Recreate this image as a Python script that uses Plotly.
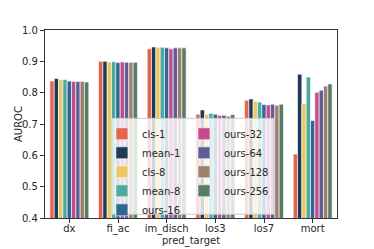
import plotly.graph_objects as go

categories = ["dx", "fi_ac", "im_disch", "los3", "los7", "mort"]
series_names = ["cls-1", "mean-1", "cls-8", "mean-8", "ours-16",
                "ours-32", "ours-64", "ours-128", "ours-256"]
colors = ["#e1654f", "#1f3a56", "#e8c966", "#4fa99c", "#2f6692",
          "#c44b8c", "#5d5f94", "#a07e6e", "#577c67"]

cls_1 = [0.837, 0.900, 0.940, 0.731, 0.776, 0.604]
mean_1 = [0.845, 0.900, 0.946, 0.745, 0.780, 0.859]
cls_8 = [0.841, 0.898, 0.945, 0.731, 0.773, 0.765]
mean_8 = [0.842, 0.899, 0.945, 0.734, 0.770, 0.850]
ours_16 = [0.837, 0.896, 0.943, 0.731, 0.762, 0.711]
ours_32 = [0.836, 0.898, 0.940, 0.727, 0.761, 0.801]
ours_64 = [0.836, 0.897, 0.943, 0.728, 0.763, 0.808]
ours_128 = [0.836, 0.897, 0.943, 0.725, 0.760, 0.821]
ours_256 = [0.834, 0.897, 0.943, 0.730, 0.763, 0.828]

values = [cls_1, mean_1, cls_8, mean_8, ours_16, ours_32, ours_64, ours_128, ours_256]

fig = go.Figure()
for i, (name, vals, col) in enumerate(zip(series_names, values, colors)):
    fig.add_trace(go.Bar(
        x=categories, y=vals, name=name,
        marker=dict(color=col, line=dict(color="white", width=0.6)),
        legend="legend" if i < 5 else "legend2",
    ))

font = dict(family="DejaVu Sans", size=10, color="#262626")
legfont = dict(family="DejaVu Sans", size=10, color="#262626")
fig.update_layout(
    width=366, height=241,
    margin=dict(l=37, r=37, t=22, b=31, autoexpand=False),
    paper_bgcolor="white", plot_bgcolor="white",
    font=font,
    barmode="group", bargap=0.2, bargroupgap=0,
    showlegend=True,
    legend=dict(x=0.195, y=0.525, xanchor="left", yanchor="top",
                bgcolor="rgba(0,0,0,0)", font=legfont,
                tracegroupgap=0, itemwidth=30),
    legend2=dict(x=0.476, y=0.525, xanchor="left", yanchor="top",
                 bgcolor="rgba(0,0,0,0)", font=legfont,
                 tracegroupgap=0, itemwidth=30),
    shapes=[dict(type="rect", xref="paper", yref="paper",
                 x0=0.229, x1=0.785, y0=0.02, y1=0.53,
                 fillcolor="rgba(255,255,255,0.8)", line=dict(color="#cccccc", width=1),
                 layer="above")],
    annotations=[dict(text="AUROC", xref="paper", yref="paper",
                      x=-0.0925, y=0.5, xanchor="center", yanchor="middle",
                      textangle=-90, showarrow=False, font=font)],
)
fig.update_xaxes(
    showline=True, linecolor="#333333", linewidth=1.2, mirror=True,
    ticks="outside", ticklen=4, tickcolor="#333333",
    showgrid=False, range=[-0.5, 5.5], automargin=False,
    ticklabelstandoff=-3,
    title=dict(text="pred_target", font=font, standoff=0),
)
fig.update_yaxes(
    showline=True, linecolor="#333333", linewidth=1.2, mirror=True,
    ticks="outside", ticklen=4, tickcolor="#333333",
    showgrid=False, range=[0.4, 1.0], automargin=False,
    tickvals=[0.4, 0.5, 0.6, 0.7, 0.8, 0.9, 1.0], tickformat=".1f",
)
fig.write_html("out.html")
